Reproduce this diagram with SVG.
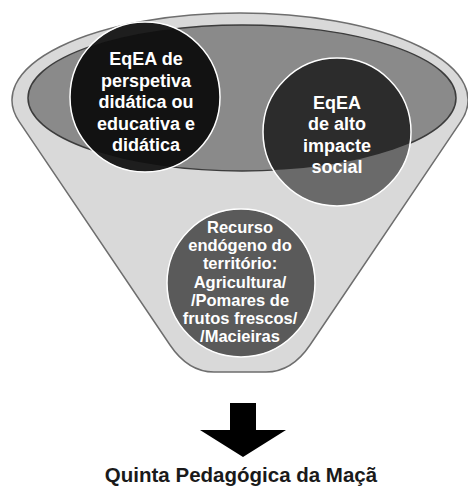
<svg xmlns="http://www.w3.org/2000/svg" width="468" height="488" viewBox="0 0 468 488">
<style>
.lbl{font-family:"Liberation Sans",Arial,sans-serif;font-weight:bold;fill:#ffffff;text-anchor:middle}
.c1{font-size:18px}
.c3{font-size:16.5px}
.ring{fill:none;stroke:#ffffff;stroke-width:1.5}
</style>
<defs>
<clipPath id="inner"><ellipse cx="242" cy="98" rx="214" ry="73"/></clipPath>
</defs>
<rect width="468" height="488" fill="#ffffff"/>
<g id="funnel">
<path d="M19.2 121.7 A228 87 0 1 1 460.8 121.7 L310 345 Q291.8 372 266 372 L214 372 Q188.2 372 170 345 Z" fill="#d9d9d9" stroke="#6e6e6e" stroke-width="1.5"/>
<ellipse cx="242" cy="98" rx="214" ry="73" fill="#8a8a8a" stroke="#3c3c3c" stroke-width="1.5"/>
</g>
<g id="node-didatica">
<circle cx="145" cy="97" r="75" fill="#1e1e1e"/>
<circle cx="145" cy="97" r="75" fill="#121212" clip-path="url(#inner)"/>
<circle cx="145" cy="97" r="75" class="ring"/>
<text class="lbl c1" x="146" y="65">EqEA de</text>
<text class="lbl c1" x="146" y="86.5">perspetiva</text>
<text class="lbl c1" x="146" y="108">didática ou</text>
<text class="lbl c1" x="146" y="129.5">educativa e</text>
<text class="lbl c1" x="146" y="151">didática</text>
</g>
<g id="node-impacte">
<circle cx="337" cy="132" r="74" fill="#6a6a6a"/>
<circle cx="337" cy="132" r="74" fill="#2c2c2c" clip-path="url(#inner)"/>
<circle cx="337" cy="132" r="74" class="ring"/>
<text class="lbl c1" x="337" y="108.5">EqEA</text>
<text class="lbl c1" x="337" y="130">de alto</text>
<text class="lbl c1" x="337" y="151.5">impacte</text>
<text class="lbl c1" x="337" y="173">social</text>
</g>
<g id="node-recurso">
<circle cx="241" cy="283" r="74" fill="#5a5a5a" stroke="#ffffff" stroke-width="1.5"/>
<text class="lbl c3" x="240" y="233">Recurso</text>
<text class="lbl c3" x="240" y="251.2">endógeno do</text>
<text class="lbl c3" x="240" y="269.4">território:</text>
<text class="lbl c3" x="240" y="287.6">Agricultura/</text>
<text class="lbl c3" x="240" y="305.8">/Pomares de</text>
<text class="lbl c3" x="240" y="324">frutos frescos/</text>
<text class="lbl c3" x="240" y="342.2">/Macieiras</text>
</g>
<g id="connectors">
<path d="M230 403 H256 V430 H286 L243 457 L200 430 H230 Z" fill="#000000"/>
</g>
<g id="node-quinta">
<text x="241" y="482" font-family="'Liberation Sans',Arial,sans-serif" font-weight="bold" font-size="20.5" fill="#1a1a1a" text-anchor="middle">Quinta Pedagógica da Maçã</text>
</g>
</svg>
